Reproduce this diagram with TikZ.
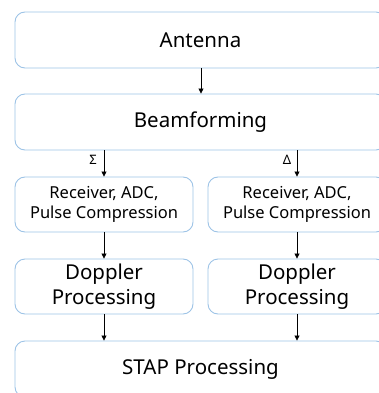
\documentclass[tikz,border=0pt]{standalone}
\usepackage{fontspec}
\setmainfont{Noto Sans}
\usetikzlibrary{arrows.meta}
\definecolor{boxblue}{RGB}{157,195,230}
\begin{document}
\begin{tikzpicture}[x=1pt,y=-1pt,
  box/.style={draw=boxblue,line width=0.9pt,rounded corners=10pt,align=center,inner sep=0pt},
  bigbox/.style={box,minimum width=371pt,minimum height=56pt,font=\fontsize{20.5}{24}\selectfont},
  smallbox/.style={box,minimum width=178pt,minimum height=55pt},
  arr/.style={-{Triangle[length=5pt,width=5pt]},line width=0.8pt},
  lbl/.style={font=\fontsize{13}{15}\selectfont,inner sep=0pt}]
\useasboundingbox (0,0) rectangle (379,393);
\begin{scope}
\clip (0,0) rectangle (379,393);
\node[bigbox] (ant) at (200.5,40) {Antenna};
\node[bigbox] (bf) at (200.5,122) {Beamforming};
\node[smallbox,font=\fontsize{16.5}{20}\selectfont] (r1) at (104,204.5) {Receiver, ADC,\\Pulse Compression};
\node[smallbox,font=\fontsize{16.5}{20}\selectfont] (r2) at (297,204.5) {Receiver, ADC,\\Pulse Compression};
\node[smallbox,font=\fontsize{20.5}{25}\selectfont] (d1) at (104,286.5) {Doppler\\Processing};
\node[smallbox,font=\fontsize{20.5}{25}\selectfont] (d2) at (297,286.5) {Doppler\\Processing};
\node[bigbox] (stap) at (200.5,369) {STAP Processing};
\end{scope}
\draw[arr] (ant.south -| 201,0) -- (bf.north -| 201,0);
\draw[arr] (bf.south -| r1) -- (r1.north);
\draw[arr] (bf.south -| r2) -- (r2.north);
\draw[arr] (r1.south) -- (d1.north);
\draw[arr] (r2.south) -- (d2.north);
\draw[arr] (d1.south) -- (stap.north -| d1);
\draw[arr] (d2.south) -- (stap.north -| d2);
\node[lbl] (sig) at (93,160) {Σ};
\node[lbl] (del) at (287,160) {Δ};
\end{tikzpicture}
\end{document}
